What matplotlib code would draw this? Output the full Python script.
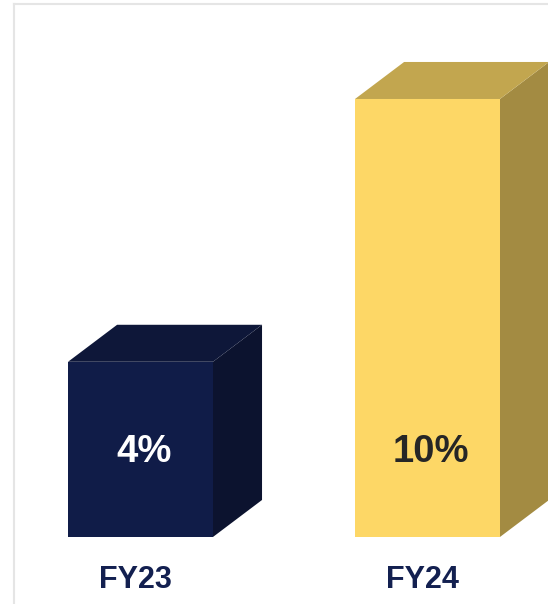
import matplotlib.pyplot as plt
from matplotlib.patches import Polygon
from matplotlib.lines import Line2D

categories = ['FY23', 'FY24']
values = [4, 10]
value_labels = ['4%', '10%']

front_colors = ['#101c48', '#fdd766']
top_colors = ['#0e1739', '#c2a64f']
side_colors = ['#0c132f', '#a38b42']
text_colors = ['white', '#262626']

plt.rcParams['font.family'] = ['Liberation Sans', 'DejaVu Sans']

fig = plt.figure(figsize=(5.48, 6.04), dpi=100)
ax = fig.add_axes([0, 0, 1, 1])
ax.set_xlim(-0.4721, 1.4373)
ax.set_ylim(-1.530, 12.26)
ax.axis('off')

width = 0.505
shift = 0.0174
dx = 0.171
dy = 0.845

for i, (cat, v) in enumerate(zip(categories, values)):
    x0 = i + shift - width / 2
    x1 = i + shift + width / 2
    front = Polygon([(x0, 0), (x1, 0), (x1, v), (x0, v)], closed=True,
                    facecolor=front_colors[i], edgecolor='none')
    top = Polygon([(x0, v), (x1, v), (x1 + dx, v + dy), (x0 + dx, v + dy)],
                  closed=True, facecolor=top_colors[i], edgecolor='none')
    side = Polygon([(x1, 0), (x1 + dx, dy), (x1 + dx, v + dy), (x1, v)],
                   closed=True, facecolor=side_colors[i], edgecolor='none')
    for p in (side, top, front):
        ax.add_patch(p)
    ax.text(i + shift + 0.012, 1.95, value_labels[i], ha='center', va='center',
            fontsize=27.5, fontweight='bold', color=text_colors[i])
    ax.annotate(cat, (i, 0), xytext=(0, -31.3), textcoords='offset points',
                ha='center', va='center', fontsize=22, fontweight='bold',
                color='#132050')

# thin frame at top and left edge
fig.add_artist(Line2D([13.5 / 548, 1], [1 - 3.5 / 604, 1 - 3.5 / 604],
                      color='#e5e5e5', lw=1.5, transform=fig.transFigure))
fig.add_artist(Line2D([14 / 548, 14 / 548], [0, 1 - 3.5 / 604],
                      color='#e5e5e5', lw=1.5, transform=fig.transFigure))

fig.savefig('out.png', dpi=100)
